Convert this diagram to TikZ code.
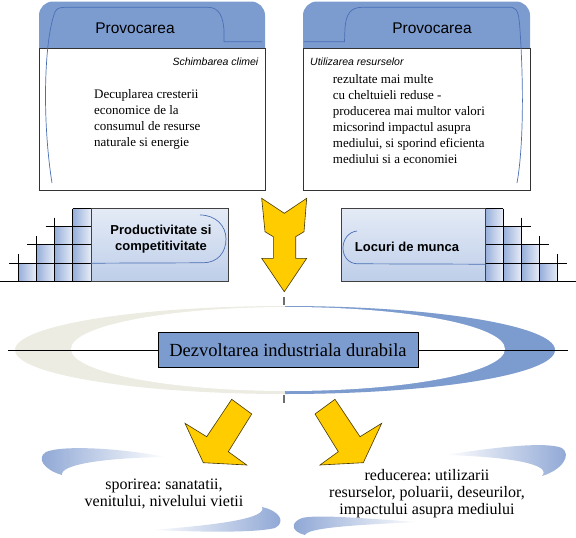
\documentclass[tikz,border=0pt]{standalone}
\usepackage{fontspec}
\setmainfont{Liberation Serif}
\setsansfont{Liberation Sans}
\usepackage{tikz}
\definecolor{hdrblue}{RGB}{124,156,208}
\definecolor{curveblue}{RGB}{74,111,181}
\definecolor{ringbeige}{RGB}{236,236,226}
\definecolor{arrowyellow}{RGB}{255,204,0}
\definecolor{arrowedge}{RGB}{70,55,0}
\definecolor{celldark}{RGB}{150,174,218}
\definecolor{celllight}{RGB}{232,237,247}
\definecolor{boxtop}{RGB}{228,235,246}
\definecolor{boxbot}{RGB}{190,206,233}
\definecolor{swblue}{RGB}{140,165,212}
\definecolor{tickgray}{RGB}{110,110,110}
\usetikzlibrary{positioning}
\frenchspacing
\tikzset{
  hdrtext/.style={font=\sffamily\fontsize{15.5}{18}\selectfont, inner sep=0pt, anchor=base},
  tagtext/.style={font=\sffamily\itshape\fontsize{10.5}{12}\selectfont, inner sep=0pt},
  bodytext/.style={font=\fontsize{13}{16}\selectfont, align=left, inner sep=0pt, anchor=north west},
  blockbox/.style={draw=black!75, line width=0.8pt, top color=boxtop, bottom color=boxbot, inner sep=0pt, minimum height=72.8pt},
  blocktext/.style={font=\sffamily\bfseries\fontsize{13}{16}\selectfont, align=center, inner sep=0pt},
  outtext/.style={font=\fontsize{16}{17}\selectfont, align=center, inner sep=0pt},
  bigarrow/.style={fill=arrowyellow, draw=arrowedge, line width=0.6pt},
  thincurve/.style={draw=curveblue, line width=0.7pt},
  gridline/.style={draw=black, line width=1pt},
  cell/.style={left color=celldark, right color=celllight},
}

\begin{document}
\begin{tikzpicture}[x=1pt, y=-1pt]
  \useasboundingbox (0,0) rectangle (576,538);

  % Challenge cards
  \fill[hdrblue] (39,48) {[rounded corners=14pt] -- (39,1.5) -- (265,1.5)} -- (265,48) -- cycle;
  \draw[black!80, fill=white, line width=0.8pt] (39,48) rectangle (265,190.5);
  \draw[thincurve] (52,183) .. controls (42,120) and (44,40) .. (55,12) .. controls (57,8) and (60,7.3) .. (66,7.3) -- (208,7.3) .. controls (220,7.3) and (223,18) .. (224,30) -- (224,41.7) -- (262,41.7);
  \node[hdrtext] (hdrL) at (135,34) {Provocarea};
  \node[tagtext, anchor=base east] (tagL) at (258.5,65) {Schimbarea climei};
  \node[bodytext] (bodyL) at (94,89) {Decuplarea cresterii\\economice de la\\consumul de resurse\\naturale si energie};

  \fill[hdrblue] (303,48) {[rounded corners=14pt] -- (303,1.5) -- (530,1.5)} -- (530,48) -- cycle;
  \draw[black!80, fill=white, line width=0.8pt] (303,48) rectangle (530,190.5);
  \draw[thincurve] (303.5,41.7) -- (344.5,41.7) -- (345,28) .. controls (346,15) and (350,7.3) .. (362,7.3) -- (512,7.3) .. controls (518,9) and (519,15) .. (520,30) .. controls (524,90) and (523,150) .. (517,183);
  \node[hdrtext] (hdrR) at (432,34) {Provocarea};
  \node[tagtext, anchor=base west] (tagR) at (310,65.5) {Utilizarea resurselor};
  \node[bodytext] (bodyR) at (332.7,74) {rezultate mai multe\\cu cheltuieli reduse -\\producerea mai multor valori\\micsorind impactul asupra\\mediului, si sporind eficienta\\mediului si a economiei};

  % Big arrow down
  \draw[bigarrow] (261.7,198.3) -- (284.3,213.3) -- (306.7,198.3) -- (304,231.7) -- (295.7,236.7) -- (295.7,258.3) -- (306.7,258.3) -- (284.3,291.7) -- (261.7,258.3) -- (273.3,258.3) -- (273.3,236.7) -- (265,231.7) -- cycle;

  % Left staircase and box
  \foreach \j in {1,...,4} \foreach \r in {\j,...,4} \shade[cell] ({91-\j*18.2},{208.5+(\r-1)*18.2}) rectangle ({91-(\j-1)*18.2},{208.5+\r*18.2});
  \foreach \k in {1,2,3} \draw[gridline] ({91-(\k+1.5)*18.2},{208.5+\k*18.2}) -- (91,{208.5+\k*18.2});
  \foreach \j in {1,...,4} \draw[gridline] ({91-\j*18.2},{208.5+max(0,\j-1.5)*18.2}) -- ({91-\j*18.2},281.3);
  \draw[gridline] (72.8,208.5) -- (91,208.5);
  \draw[gridline] (0,281.3) -- (91,281.3);
  \node[blockbox, minimum width=137.3pt] (prodbox) at (159.65,244.9) {};
  \draw[thincurve] (prodbox.south west) ++(0,-18.5) -- (203,262.8) .. controls (218,262.8) and (226,252) .. (226,239) .. controls (226,226) and (216,215) .. (200,215);
  \node[blocktext] (prodtext) at (161,239) {Productivitate si\\competitivitate};

  % Right staircase and box
  \foreach \j in {1,...,4} \foreach \r in {\j,...,4} \shade[cell] ({485+(\j-1)*18.2},{208.5+(\r-1)*18.2}) rectangle ({485+\j*18.2},{208.5+\r*18.2});
  \foreach \k in {1,2,3} \draw[gridline] (485,{208.5+\k*18.2}) -- ({485+(\k+1.5)*18.2},{208.5+\k*18.2});
  \foreach \j in {1,...,4} \draw[gridline] ({485+\j*18.2},{208.5+max(0,\j-1.5)*18.2}) -- ({485+\j*18.2},281.3);
  \draw[gridline] (485,208.5) -- (503.2,208.5);
  \draw[gridline] (485,281.3) -- (576,281.3);
  \node[blockbox, minimum width=144pt] (jobbox) at (413,244.9) {};
  \draw[thincurve] (jobbox.south east) ++(0,-17.5) -- (358,263.8) .. controls (348,263.8) and (343,256) .. (343,248) .. controls (343,240) and (348,232) .. (357,231);
  \node[blocktext] (jobtext) at (407,247.3) {Locuri de munca};

  % Central ring
  \fill[ringbeige] (285,350) ellipse [x radius=270, y radius=44];
  \begin{scope}
    \clip (285,290) rectangle (570,410);
    \fill[hdrblue] (285,350) ellipse [x radius=270, y radius=44];
  \end{scope}
  \fill[white] (288,349) ellipse [x radius=217, y radius=42];
  \coordinate (lineL) at (8,350);
  \coordinate (lineR) at (568,350);
  \coordinate (tickA) at (284,297);
  \coordinate (tickB) at (284,305);
  \coordinate (tickC) at (284,395);
  \coordinate (tickD) at (284,403);
  \draw[tickgray, line width=1.5pt] (tickA) -- (tickB);
  \draw[tickgray, line width=1.5pt] (tickC) -- (tickD);
  \node[draw=black, line width=0.8pt, fill=hdrblue, minimum width=260pt, minimum height=35pt, inner sep=0pt, font=\fontsize{18.5}{20}\selectfont] (dezv) at (288,350) {Dezvoltarea industriala durabila};
  \draw[black, line width=0.8pt] (lineL) -- (dezv.west);
  \draw[black, line width=0.8pt] (dezv.east) -- (lineR);

  % Outcome arrows
  \draw[bigarrow] (231.7,399.3) -- (251.7,414) -- (228.3,451.7) -- (246.7,465) -- (203.3,462.7) -- (185,423.3) -- (206.7,436.7) -- cycle;
  \draw[bigarrow] (335,399.3) -- (315,414) -- (338.3,451.7) -- (320,465) -- (363.3,462.7) -- (381.7,423.3) -- (360,436.7) -- cycle;

  % Outcome swooshes
  \shade[left color=swblue, right color=white] (166,457) .. controls (120,448) and (62,445) .. (46,452) .. controls (36,458) and (44,470) .. (62,475) .. controls (60,465) and (100,458) .. (166,457) -- cycle;
  \shade[left color=white, right color=swblue] (150,530) .. controls (200,532) and (255,533) .. (275,528) .. controls (286,522) and (280,511) .. (262,507) .. controls (268,518) and (220,525) .. (150,530) -- cycle;
  \shade[left color=white, right color=swblue] (445,455) .. controls (490,448) and (545,441) .. (562,448) .. controls (572,455) and (562,470) .. (542,476) .. controls (552,465) and (515,457) .. (445,455) -- cycle;
  \shade[left color=swblue, right color=white] (420,522) .. controls (370,519) and (318,514) .. (302,518) .. controls (289,523) and (292,532) .. (305,535) .. controls (308,528) and (350,525) .. (420,522) -- cycle;
  \node[outtext] (outL) at (164,494) {sporirea: sanatatii,\\venitului, nivelului vietii};
  \node[outtext] (outR) at (427,494) {reducerea: utilizarii\\resurselor, poluarii, deseurilor,\\impactului asupra mediului};
\end{tikzpicture}
\end{document}
